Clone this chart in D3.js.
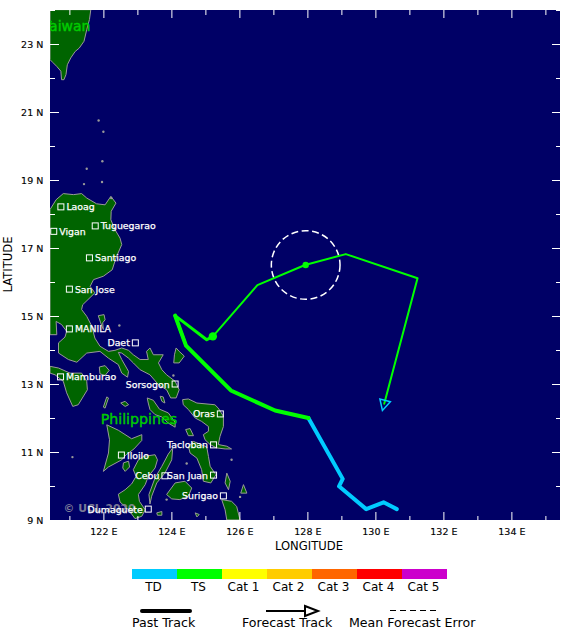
<!DOCTYPE html>
<html>
<head>
<meta charset="utf-8">
<script src="https://cdn.jsdelivr.net/npm/d3@7"></script>
<style>
  body { margin: 0; background: #fff; }
  text { font-family: "DejaVu Sans", sans-serif; }
</style>
</head>
<body>
<div id="chart"></div>
<script>
// coastlines, [lon, lat]
const taiwan = [[120.43,24.01],[121.63,24.01],[121.59,23.72],[121.51,23.42],[121.43,23.08],[121.29,22.88],[121.17,22.78],[121.04,22.59],[120.94,22.39],[120.90,22.10],[120.84,21.95],[120.77,21.95],[120.75,22.2],[120.63,22.34],[120.51,22.46],[120.43,22.54]];
const luzon = [[120.43,18.13],[120.61,18.42],[120.82,18.60],[121.12,18.57],[121.36,18.60],[121.51,18.47],[121.80,18.30],[122.05,18.27],[122.22,18.52],[122.37,18.32],[122.23,18.08],[122.22,17.83],[122.34,17.54],[122.49,17.29],[122.54,17.10],[122.37,16.71],[122.26,16.36],[122.00,16.17],[121.71,16.07],[121.61,15.87],[121.75,15.68],[121.39,15.33],[121.36,15.19],[121.51,14.99],[121.66,14.70],[121.75,14.35],[121.90,14.11],[122.15,13.96],[122.34,13.99],[122.54,14.06],[122.74,13.99],[122.88,13.86],[123.08,13.72],[123.32,13.72],[123.27,13.96],[123.37,14.06],[123.47,13.86],[123.76,13.86],[123.62,13.62],[123.72,13.42],[123.86,13.27],[124.11,13.08],[124.23,12.83],[124.14,12.59],[123.98,12.59],[123.86,12.83],[123.62,12.98],[123.37,13.27],[123.08,13.42],[122.88,13.62],[122.74,13.76],[122.54,13.91],[122.44,13.93],[122.54,13.72],[122.74,13.37],[122.71,13.20],[122.54,13.32],[122.44,13.57],[122.15,13.76],[121.90,13.96],[121.51,13.91],[121.22,13.64],[120.97,13.72],[120.68,13.91],[120.68,14.21],[120.87,14.38],[120.92,14.55],[120.77,14.75],[120.61,14.84],[120.63,14.45],[120.43,14.45]];
const mindoro = [[120.43,13.52],[120.68,13.47],[121.02,13.32],[121.36,13.32],[121.51,13.08],[121.53,12.83],[121.26,12.39],[121.10,12.34],[120.92,12.74],[120.82,13.08],[120.58,13.27],[120.43,13.32]];
const marinduque = [[121.88,13.50],[122.05,13.54],[122.17,13.40],[122.05,13.25],[121.90,13.30]];
const polillo = [[121.85,15.01],[122.02,15.04],[122.05,14.89],[121.98,14.80],[122.0,14.60],[121.92,14.80]];
const catanduanes = [[124.14,14.06],[124.23,13.96],[124.38,13.82],[124.23,13.62],[124.07,13.62],[124.09,13.86]];
const tablas = [[122.10,12.62],[122.15,12.59],[122.05,12.29],[122.0,12.32]];
const romblon = [[122.51,12.44],[122.64,12.49],[122.74,12.39],[122.64,12.34]];
const masbate = [[123.29,12.59],[123.47,12.52],[123.65,12.26],[123.91,12.15],[124.11,11.87],[124.11,11.73],[123.91,11.85],[123.72,12.03],[123.52,12.10],[123.37,12.25],[123.32,12.44]];
const ticao = [[123.67,12.64],[123.76,12.62],[123.81,12.44],[123.72,12.49]];
const samar = [[124.33,12.54],[124.50,12.56],[124.75,12.44],[125.28,12.39],[125.38,12.29],[125.53,12.05],[125.53,11.75],[125.43,11.46],[125.38,11.22],[125.63,11.17],[125.77,11.09],[125.58,11.09],[125.33,11.12],[125.14,11.22],[124.99,11.36],[124.94,11.51],[125.09,11.61],[125.09,11.75],[124.89,11.90],[124.70,12.0],[124.50,12.25],[124.35,12.39]];
const leyte = [[124.65,11.31],[125.04,11.15],[125.09,10.87],[125.14,10.58],[125.31,10.33],[125.16,10.09],[124.94,10.14],[124.89,10.48],[124.75,10.82],[124.55,10.97],[124.50,11.17]];
const biliran = [[124.42,11.66],[124.55,11.69],[124.65,11.48],[124.50,11.48]];
const bohol = [[123.86,9.75],[124.11,10.09],[124.40,10.14],[124.60,9.94],[124.50,9.70],[124.25,9.60],[124.01,9.62]];
const cebu = [[124.04,11.12],[124.01,10.77],[123.81,10.38],[123.57,10.09],[123.42,9.70],[123.37,9.47],[123.34,9.75],[123.52,10.24],[123.72,10.58],[123.91,10.94]];
const negros = [[123.03,10.77],[123.18,10.87],[123.52,10.92],[123.59,10.77],[123.52,10.53],[123.32,10.28],[123.23,10.04],[123.03,9.75],[123.06,9.55],[123.23,9.30],[123.13,9.11],[122.93,9.04],[122.74,9.30],[122.49,9.53],[122.44,9.76],[122.64,9.89],[122.83,10.06],[122.96,10.28],[122.88,10.48]];
const panay = [[122.10,11.80],[122.44,11.64],[122.83,11.39],[123.13,11.51],[123.13,11.34],[122.90,11.09],[122.67,10.92],[122.54,10.77],[122.15,10.56],[122.0,10.43],[122.15,10.97],[122.18,11.36]];
const guimaras = [[122.59,10.68],[122.74,10.73],[122.77,10.56],[122.64,10.43],[122.57,10.53]];
const mindanao = [[125.48,9.60],[125.77,9.55],[125.92,9.40],[126.02,9.0],[125.63,9.0],[125.58,9.30]];
const dinagat = [[125.63,10.38],[125.73,10.14],[125.68,9.89],[125.58,10.09]];
const siargao = [[126.12,10.04],[126.22,9.79],[126.04,9.79]];
const camiguin = [[124.70,9.21],[124.82,9.16],[124.75,9.09]];
const siquijor = [[123.57,9.21],[123.72,9.25],[123.72,9.14],[123.59,9.14]];
const landAreas = [taiwan, luzon, mindoro, marinduque, polillo, catanduanes, tablas, romblon, masbate, ticao, samar, leyte, biliran, bohol, cebu, negros, panay, guimaras, mindanao, dinagat, siargao, camiguin, siquijor];
const islets = [[121.86,20.75],[122.0,20.42],[121.97,19.55],[121.51,19.33],[121.43,18.88],[121.96,18.94],[122.23,18.47],[122.47,14.72],[126.02,9.68],[125.77,10.77],[124.45,10.66],[123.86,9.6],[121.09,10.85],[124.06,13.25]];

const cities = ["Laoag","Vigan","Tuguegarao","Santiago","San Jose","MANILA","Daet","Mamburao","Sorsogon","Oras","Tacloban","Iloilo","Cebu","San Juan","Surigao","Dumaguete"];
const cityLon = [120.75,120.54,121.76,121.59,121.0,121.0,122.94,120.74,124.11,125.44,125.24,122.53,123.81,125.24,125.53,123.32];
const cityLat = [18.21,17.49,17.65,16.71,15.79,14.62,14.21,13.21,13.0,12.12,11.21,10.91,10.30,10.32,9.71,9.32];
const citySide = [1,1,1,1,1,1,-1,1,-1,-1,-1,1,-1,-1,-1,-1];

// storm track
const pastTD = [[130.63,9.32],[130.24,9.52],[129.73,9.32],[128.93,9.99],[129.04,10.21],[128.03,12.0]];
const pastTS = [[128.03,12.0],[127.05,12.22],[125.75,12.81],[124.43,14.13],[124.11,15.01]];
const pastRecent = [[124.11,15.01],[124.43,14.13]];
const pastLast = [[124.11,15.01],[125.04,14.30],[125.22,14.40]];
const current = [125.22,14.40];
const forecast = [[125.22,14.40],[126.53,15.91],[127.93,16.5],[129.13,16.82],[131.24,16.11],[130.26,12.42]];
const forecastDot = [127.95,16.5];
const errorRadius = 1.01;

const lonMajor = [122,124,126,128,130,132,134];
const lonMinor = [121,123,125,127,129,131,133,135];
const latMajor = [9,11,13,15,17,19,21,23];
const latMinor = [10,12,14,16,18,20,22,24];

const categories = ["TD","TS","Cat 1","Cat 2","Cat 3","Cat 4","Cat 5"];
const categoryColors = ["#00ccff","#00ff00","#ffff00","#ffcc00","#ff6600","#ff0000","#cc00cc"];

const x = d3.scaleLinear().domain([120.43,135.43]).range([50,560]);
const y = d3.scaleLinear().domain([9,24]).range([520,10]);
const pt = d => [x(d[0]), y(d[1])];
const line = d3.line().x(d => x(d[0])).y(d => y(d[1]));
const color = d3.scaleOrdinal().domain(categories).range(categoryColors);

const svg = d3.select("#chart").append("svg")
  .attr("width",580)
  .attr("height",639)
  .style("display","block");

svg.append("clipPath").attr("id","plot")
  .append("rect").attr("x",50).attr("y",10).attr("width",510).attr("height",510);

svg.append("rect").attr("x",50).attr("y",10).attr("width",510).attr("height",510).attr("fill","#000066");

const map = svg.append("g").attr("clip-path","url(#plot)");

map.selectAll("path.land").data(landAreas).join("path")
  .attr("class","land")
  .attr("d",d => line(d) + "Z")
  .attr("fill","#006400")
  .attr("stroke","#999999")
  .attr("stroke-width",1);

map.selectAll("circle.islet").data(islets).join("circle")
  .attr("class","islet")
  .attr("cx",d => x(d[0]))
  .attr("cy",d => y(d[1]))
  .attr("r",1.2)
  .attr("fill","#999999");

// country names
map.append("text").attr("x",x(120.22)).attr("y",y(23.39))
  .attr("font-size",14).attr("fill","#00cc00").attr("stroke","#00cc00").attr("stroke-width",0.4).text("Taiwan");
map.append("text").attr("x",x(121.92)).attr("y",y(11.82))
  .attr("font-size",14.2).attr("fill","#00cc00").attr("stroke","#00cc00").attr("stroke-width",0.4).text("Philippines");
map.append("text").attr("x",x(120.83)).attr("y",y(9.24))
  .attr("font-size",10.8).attr("font-weight","bold").attr("fill","#8f8f9f").attr("opacity",0.85)
  .text("© UCL 2020");

// cities
map.selectAll("rect.city").data(cities).join("rect")
  .attr("class","city")
  .attr("x",(d,i) => x(cityLon[i]) - 3)
  .attr("y",(d,i) => y(cityLat[i]) - 3)
  .attr("width",6)
  .attr("height",6)
  .attr("fill","none")
  .attr("stroke","#fff");

map.selectAll("text.city").data(cities).join("text")
  .attr("class","city")
  .attr("x",(d,i) => x(cityLon[i]) + citySide[i] * 5.5)
  .attr("y",(d,i) => y(cityLat[i]) + 3.5)
  .attr("text-anchor",(d,i) => citySide[i] > 0 ? "start" : "end")
  .attr("font-size",9.4)
  .attr("fill","#fff")
  .attr("stroke","#fff")
  .attr("stroke-width",0.25)
  .text(d => d);

// error circle, radius in degrees
map.append("circle")
  .attr("cx",x(forecastDot[0]))
  .attr("cy",y(forecastDot[1]))
  .attr("r",x(120.43 + errorRadius) - x(120.43))
  .attr("fill","none")
  .attr("stroke","#fff")
  .attr("stroke-width",1.5)
  .attr("stroke-dasharray","7 3.5");

// track
function track(data, col, w){
  map.append("path")
    .attr("d",line(data))
    .attr("fill","none")
    .attr("stroke",col)
    .attr("stroke-width",w)
    .attr("stroke-linejoin","round")
    .attr("stroke-linecap","round");
}
track(pastTD, color("TD"), 4);
track(pastTS, color("TS"), 4);
track(pastRecent, color("TS"), 3);
track(pastLast, color("TS"), 3);
track(forecast, color("TS"), 2);

const n = forecast.length;
const [ax, ay] = pt(forecast[n-2]);
const [bx, by] = pt(forecast[n-1]);
const angle = Math.atan2(by - ay, bx - ax) * 180 / Math.PI;
map.append("path")
  .attr("d","M-3.5,-5.4L7,0L-3.5,5.4Z")
  .attr("transform",`translate(${bx},${by}) rotate(${angle})`)
  .attr("fill","none")
  .attr("stroke",color("TD"))
  .attr("stroke-width",1.5);

map.append("circle").attr("cx",x(current[0])).attr("cy",y(current[1])).attr("r",4.2).attr("fill",color("TS"));
map.append("circle").attr("cx",x(forecastDot[0])).attr("cy",y(forecastDot[1])).attr("r",3.2).attr("fill",color("TS"));

// axes, ticks point inward
function styleAxis(g){
  g.select(".domain").remove();
  g.selectAll("line").attr("stroke","#fff");
  g.selectAll("text").attr("fill","#000").attr("stroke","#000").attr("stroke-width",0.15)
    .attr("font-size",9.5).style("font-family","'DejaVu Sans'");
}
const noLabel = () => "";
svg.append("g").attr("transform","translate(0,520)")
  .call(d3.axisBottom(x).tickValues(lonMajor).tickSize(-8).tickPadding(8.3).tickFormat(d => d + " E")).call(styleAxis);
svg.append("g").attr("transform","translate(0,520)")
  .call(d3.axisBottom(x).tickValues(lonMinor).tickSize(-4).tickFormat(noLabel)).call(styleAxis);
svg.append("g").attr("transform","translate(0,10)")
  .call(d3.axisTop(x).tickValues(lonMajor).tickSize(-8).tickFormat(noLabel)).call(styleAxis);
svg.append("g").attr("transform","translate(0,10)")
  .call(d3.axisTop(x).tickValues(lonMinor).tickSize(-5).tickFormat(noLabel)).call(styleAxis);
svg.append("g").attr("transform","translate(50,0)")
  .call(d3.axisLeft(y).tickValues(latMajor).tickSize(-9).tickPadding(6.7).tickFormat(d => d + " N")).call(styleAxis);
svg.append("g").attr("transform","translate(50,0)")
  .call(d3.axisLeft(y).tickValues(latMinor).tickSize(-5).tickFormat(noLabel)).call(styleAxis);
svg.append("g").attr("transform","translate(560,0)")
  .call(d3.axisRight(y).tickValues(latMajor).tickSize(-8).tickFormat(noLabel)).call(styleAxis);
svg.append("g").attr("transform","translate(560,0)")
  .call(d3.axisRight(y).tickValues(latMinor).tickSize(-4).tickFormat(noLabel)).call(styleAxis);

svg.append("text").attr("x",309).attr("y",550).attr("text-anchor","middle").attr("font-size",11.6).text("LONGITUDE");
svg.append("text").attr("transform","translate(12,264.5) rotate(-90)").attr("text-anchor","middle").attr("font-size",11.6).text("LATITUDE");

// category colour bar
const band = d3.scaleBand().domain(categories).range([132,447]);
svg.selectAll("rect.cat").data(categories).join("rect")
  .attr("class","cat")
  .attr("x",d => band(d))
  .attr("y",569)
  .attr("width",band.bandwidth())
  .attr("height",10)
  .attr("fill",d => color(d));
svg.selectAll("text.cat").data(categories).join("text")
  .attr("class","cat")
  .attr("x",d => band(d) + band.bandwidth() / 2 - 1)
  .attr("y",591)
  .attr("text-anchor","middle")
  .attr("font-size",12)
  .attr("fill","#000")
  .text(d => d);

// line style key
svg.append("line").attr("x1",142).attr("x2",190).attr("y1",611).attr("y2",611)
  .attr("stroke","#000").attr("stroke-width",4).attr("stroke-linecap","round");
svg.append("line").attr("x1",266).attr("x2",305).attr("y1",611).attr("y2",611)
  .attr("stroke","#000").attr("stroke-width",2);
svg.append("path").attr("d","M305,606L318,611L305,616Z")
  .attr("fill","#fff").attr("stroke","#000").attr("stroke-width",2);
svg.append("line").attr("x1",390).attr("x2",436).attr("y1",610.5).attr("y2",610.5)
  .attr("stroke","#000").attr("stroke-width",1).attr("stroke-dasharray","6 4");
svg.append("text").attr("x",132).attr("y",627).attr("font-size",12.6).text("Past Track");
svg.append("text").attr("x",242).attr("y",627).attr("font-size",12.6).text("Forecast Track");
svg.append("text").attr("x",349).attr("y",627).attr("font-size",12.6).text("Mean Forecast Error");
</script>
</body>
</html>
